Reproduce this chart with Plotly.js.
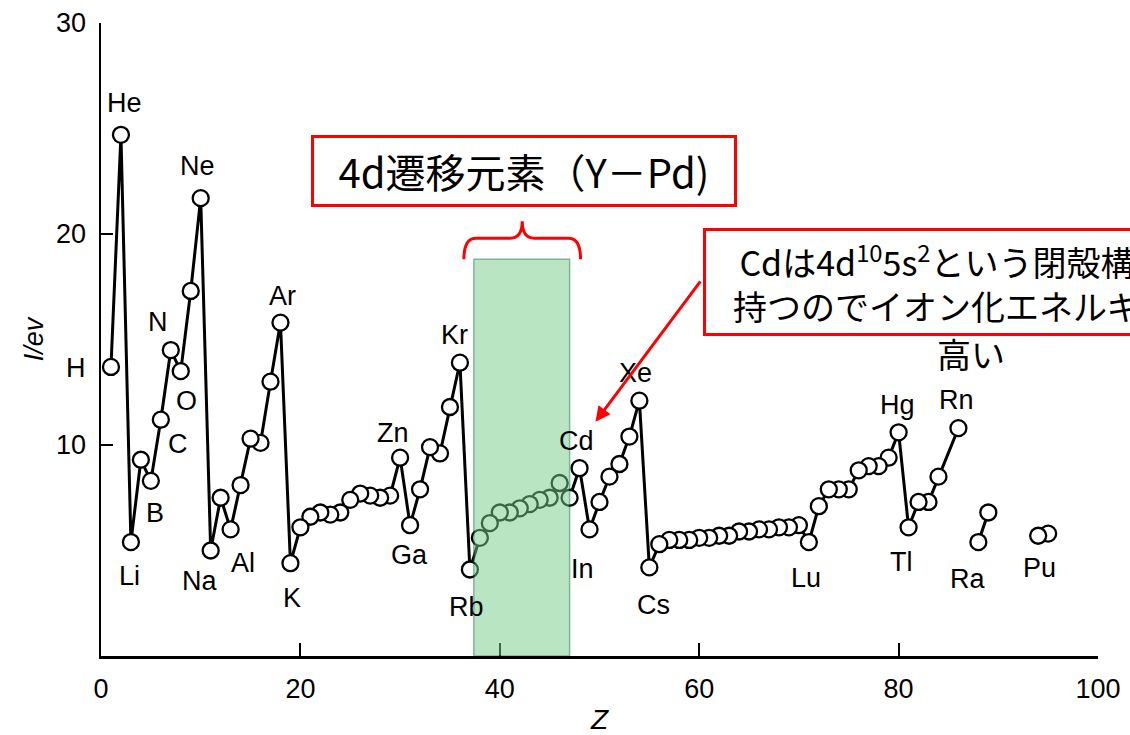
<!DOCTYPE html>
<html>
<head>
<meta charset="utf-8">
<script src="https://cdn.plot.ly/plotly-3.0.1.min.js"></script>
<style>
html,body{margin:0;padding:0;background:#fff;}
#chart{width:1130px;height:735px;}
</style>
</head>
<body>
<div id="chart"></div>
<script>
// Atomic number (Z) and first ionization energy I (eV)
const Z = [1,2,3,4,5,6,7,8,9,10,
  11,12,13,14,15,16,17,18,19,20,
  21,22,23,24,25,26,27,28,29,30,
  31,32,33,34,35,36,37,38,39,40,
  41,42,43,44,45,46,47,48,49,50,
  51,52,53,54,55,56,57,58,59,60,
  61,62,63,64,65,66,67,68,69,70,
  71,72,73,74,75,76,77,78,79,80,
  81,82,83,84,86,88,89,94,95];
const IE = [13.7,24.7,5.4,9.3,8.3,11.2,14.5,13.5,17.3,21.7,
  5.0,7.5,6.0,8.1,10.3,10.1,13.0,15.8,4.4,6.1,
  6.6,6.8,6.7,6.8,7.4,7.7,7.6,7.5,7.6,9.4,
  6.2,7.9,9.9,9.6,11.8,13.9,4.1,5.6,6.3,6.8,
  6.8,7.0,7.2,7.4,7.5,8.2,7.5,8.9,6.0,7.3,
  8.5,9.1,10.4,12.1,4.2,5.3,5.5,5.5,5.5,5.6,
  5.6,5.7,5.7,5.9,5.9,6.0,6.0,6.1,6.1,6.2,
  5.4,7.1,7.9,7.9,7.9,8.8,9.0,9.0,9.4,10.6,
  6.1,7.3,7.3,8.5,10.8,5.4,6.8,5.7,5.8];
// last Z of each connected run of points
const runEnds = [86, 89, 95];

// element labels
const labelNames = ['H','He','Li','B','C','N','O','Ne','Na','Al','Ar','K','Zn','Ga','Kr','Rb','Cd','In','Xe','Cs','Lu','Hg','Tl','Rn','Ra','Pu'];
const labelZ     = [1,2,3,5,6,7,8,10,11,13,18,19,30,31,36,37,48,49,54,55,71,80,81,86,88,94];

const xTickVals = [0,20,40,60,80,100];
const yTickVals = [10,20,30];

const boxText1 = '4d遷移元素（Y－Pd)';
const boxText2 = 'Cdは4d<sup>10</sup>5s<sup>2</sup>という閉殻構造を<br>持つのでイオン化エネルギーが';
const boxText3 = '高い';

// ---- styling / placement (not data) ----
const labelShift = { // [dx, dy] px, dy positive = downwards
  H:[-35,1], He:[4,-32], Li:[-1,34], B:[4,32], C:[17,24], N:[-13,-28], O:[6,30],
  Ne:[-3,-32], Na:[-11,30], Al:[12,34], Ar:[2,-27], K:[2,35], Zn:[-7,-25],
  Ga:[-1,30], Kr:[-5,-28], Rb:[-3,38], Cd:[-3,-27], In:[-7,40], Xe:[-4,-28],
  Cs:[4,38], Lu:[-3,36], Hg:[-1,-27], Tl:[-7,35], Rn:[-2,-28], Ra:[-11,37], Pu:[1,32]
};

// build x/y with gaps between runs, drawn from right to left (left circles on top)
const xs = [], ys = [];
for (let i = 0; i < Z.length; i++) {
  xs.push(Z[i]); ys.push(IE[i]);
  if (runEnds.includes(Z[i]) && i < Z.length - 1) { xs.push(null); ys.push(null); }
}
xs.reverse(); ys.reverse();

const trace = {
  x: xs, y: ys, type: 'scatter', mode: 'lines+markers',
  connectgaps: false, cliponaxis: false, hoverinfo: 'skip',
  line: {color: '#000', width: 3},
  marker: {symbol: 'circle', size: 16, color: '#fff', line: {color: '#000', width: 2.3}}
};

const LAB = 'Liberation Sans, Arial, Helvetica, sans-serif';
const CJK = 'Noto Sans CJK JP, Liberation Sans, sans-serif';

const annotations = labelNames.map((n, k) => {
  const idx = Z.indexOf(labelZ[k]);
  const s = labelShift[n] || [0,0];
  return {x: Z[idx], y: IE[idx], xref: 'x', yref: 'y', text: n, showarrow: false,
    xshift: s[0], yshift: -s[1], font: {family: LAB, size: 27, color: '#000'}};
});

annotations.push({
  x: 42.38, y: 22.99, xref: 'x', yref: 'y', text: boxText1, showarrow: false,
  width: 420, height: 66, borderpad: 0, bordercolor: '#ff0000', borderwidth: 3,
  bgcolor: '#fff', font: {family: CJK, size: 40, color: '#000'}
});
annotations.push({
  x: 87.27, y: 17.73, xref: 'x', yref: 'y', text: boxText2, showarrow: false,
  width: 530, height: 102, borderpad: 0, bordercolor: '#ff0000', borderwidth: 3,
  bgcolor: '#fff', font: {family: CJK, size: 34, color: '#000'}
});
annotations.push({
  x: 87.27, y: 14.36, xref: 'x', yref: 'y', text: boxText3, showarrow: false,
  font: {family: CJK, size: 34, color: '#000'}
});
annotations.push({
  x: 49.6, y: 11.1, xref: 'x', yref: 'y', text: '', showarrow: true,
  ax: 106, ay: -142, arrowcolor: '#ff0000', arrowwidth: 3, arrowhead: 2, arrowsize: 1
});

// curly brace above the 4d band
function bracePath(x0, x1, yBase, yBar, yTip) {
  const xm = (x0 + x1) / 2, r = 1.2;
  return `M ${x0} ${yBase} Q ${x0} ${yBar} ${x0 + r} ${yBar} L ${xm - r} ${yBar} Q ${xm} ${yBar} ${xm} ${yTip} ` +
         `Q ${xm} ${yBar} ${xm + r} ${yBar} L ${x1 - r} ${yBar} Q ${x1} ${yBar} ${x1} ${yBase}`;
}

const shapes = [
  {type: 'rect', xref: 'x', yref: 'y', x0: 37.4, x1: 47.0, y0: 0, y1: 18.8,
   fillcolor: 'rgb(120,205,135)', opacity: 0.5, layer: 'above',
   line: {color: 'rgb(0,110,40)', width: 1.5}},
  {type: 'path', xref: 'x', yref: 'y', layer: 'above',
   path: bracePath(36.4, 48.1, 18.8, 19.8, 20.6),
   line: {color: '#ff0000', width: 3}}
];

const layout = {
  width: 1130, height: 735,
  margin: {l: 101, r: 32, t: 23, b: 79, pad: 0},
  paper_bgcolor: '#fff', plot_bgcolor: 'rgba(0,0,0,0)',
  showlegend: false,
  font: {family: LAB, color: '#000'},
  xaxis: {
    range: [0, 100], tickvals: xTickVals, ticktext: xTickVals.map(String),
    ticks: 'inside', ticklen: 13, tickwidth: 2, tickcolor: '#000',
    showline: true, linewidth: 2.5, linecolor: '#000',
    showgrid: false, zeroline: false, automargin: false,
    ticklabelstandoff: 7,
    tickfont: {family: LAB, size: 27, color: '#000'},
    title: {text: '<i>Z</i>', font: {family: LAB, size: 28, color: '#000'}, standoff: 11}
  },
  yaxis: {
    range: [0, 30], tickvals: yTickVals, ticktext: yTickVals.map(String),
    ticks: 'inside', ticklen: 12, tickwidth: 2, tickcolor: '#000',
    showline: true, linewidth: 2.5, linecolor: '#000',
    showgrid: false, zeroline: false, automargin: false,
    ticklabelstandoff: 7,
    tickfont: {family: LAB, size: 27, color: '#000'},
    title: {text: '<i>I/ev</i>', font: {family: LAB, size: 27, color: '#000'}, standoff: 5}
  },
  annotations: annotations,
  shapes: shapes
};

Plotly.newPlot('chart', [trace], layout, {displayModeBar: false, staticPlot: true});
</script>
</body>
</html>
